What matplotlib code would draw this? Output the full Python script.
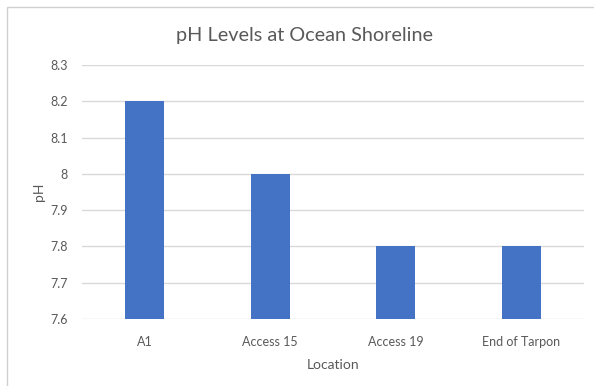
import matplotlib
matplotlib.use("Agg")
import matplotlib.pyplot as plt
from matplotlib.patches import Rectangle

locations = ["A1", "Access 15", "Access 19", "End of Tarpon"]
ph_values = [8.2, 8.0, 7.8, 7.8]
y_ticks = [7.6, 7.7, 7.8, 7.9, 8.0, 8.1, 8.2, 8.3]
y_tick_labels = ["7.6", "7.7", "7.8", "7.9", "8", "8.1", "8.2", "8.3"]

plt.rcParams["font.family"] = ["Lato", "DejaVu Sans"]
text_color = "#595959"
grid_color = "#d9d9d9"
bar_color = "#4472c4"

W, H = 594, 386
fig = plt.figure(figsize=(W / 100, H / 100), dpi=100)
fig.patch.set_facecolor("white")

# chart frame (runs off the right and bottom edges)
fig.patches.append(Rectangle((7 / W, -0.1), 1.2, 1 - 7 / H + 0.1,
                             transform=fig.transFigure, fill=False,
                             edgecolor="#d0d0d0", linewidth=1.0))

ax = fig.add_axes([82 / W, 1 - 319 / H, (584 - 82) / W, (319 - 65) / H])
x = range(len(locations))
ax.bar(x, [v - 7.6 for v in ph_values], bottom=7.6, width=0.31,
       color=bar_color, zorder=3)
ax.set_xlim(-0.5, len(locations) - 0.5)
ax.set_ylim(7.6, 8.3)
ax.set_yticks(y_ticks)
ax.set_yticklabels(y_tick_labels)
ax.set_xticks(list(x))
ax.set_xticklabels(locations)
ax.grid(axis="y", color=grid_color, linewidth=1.0, zorder=0)
for s in ax.spines.values():
    s.set_visible(False)
ax.tick_params(axis="both", length=0, colors=text_color, labelsize=9)
ax.tick_params(axis="y", pad=10)
ax.tick_params(axis="x", pad=12)

ax.set_xlabel("Location", color=text_color, fontsize=10, labelpad=8)
fig.text(39 / W, 1 - 192 / H, "pH", rotation=90, ha="center", va="center",
         color=text_color, fontsize=10)
fig.text(304 / W, 1 - 35 / H, "pH Levels at Ocean Shoreline",
         ha="center", va="center", color=text_color, fontsize=14.3)

fig.savefig("out.png", dpi=100)
